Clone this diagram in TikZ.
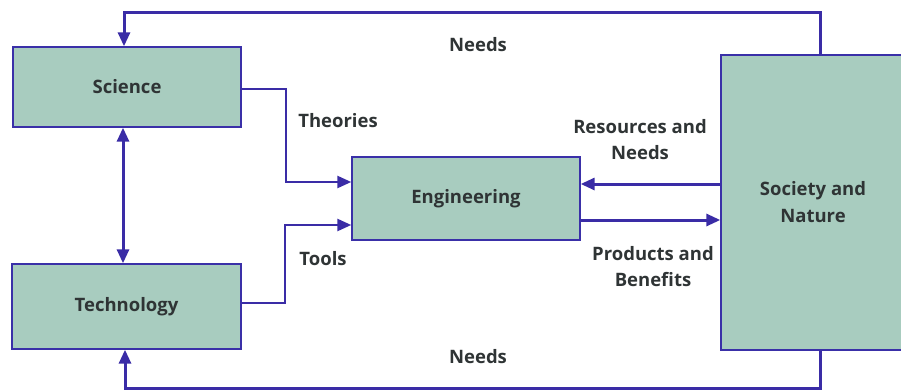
\documentclass[tikz,border=0pt]{standalone}
\usepackage{fontspec}
\setmainfont{Open Sans}
\usetikzlibrary{arrows.meta}
\definecolor{boxfill}{HTML}{A8CCBF}
\definecolor{boxline}{HTML}{3A30A8}
\definecolor{arrowc}{HTML}{3A2CA6}
\definecolor{txt}{HTML}{2F3435}
\begin{document}
\begin{tikzpicture}[x=1pt,y=-1pt,
  box/.style={draw=boxline,line width=1.4pt,fill=boxfill,inner sep=0pt,
    font=\fontsize{18.5}{27}\selectfont\bfseries,text=txt,align=center},
  conn/.style={draw=arrowc,line width=3pt},
  tip/.style={-{Triangle[length=14pt,width=12pt]}},
  lab/.style={font=\fontsize{18.5}{26}\selectfont\bfseries,text=txt,align=center,inner sep=0pt}]
\useasboundingbox (0,0) rectangle (901,390);
\node[box,minimum width=228pt,minimum height=80pt] (science) at (127,87) {Science};
\node[box,minimum width=229pt,minimum height=85pt] (technology) at (126.5,306.5) {Technology};
\node[box,minimum width=228pt,minimum height=83pt] (engineering) at (466,198.5) {Engineering};
\node[box,minimum width=184pt,minimum height=295pt] (society) at (813,202.5) {Society and\\Nature};
\coordinate (tr) at (820,13);
\coordinate (tl) at (124,13);
\coordinate (br) at (820,388);
\coordinate (bl) at (125,388);
\coordinate (st) at (123,0);
\coordinate (th1) at (286,89);
\coordinate (th2) at (286,182);
\coordinate (to1) at (285,303);
\coordinate (to2) at (285,225);
\coordinate (rs) at (0,184);
\coordinate (pr) at (0,220);
\draw[conn,tip] (society.north -| tr) -- (tr) -- (tl) -- (science.north -| tl);
\draw[conn,tip] (society.south -| br) -- (br) -- (bl) -- (technology.south -| bl);
\draw[conn,{Triangle[length=14pt,width=12pt]}-{Triangle[length=14pt,width=12pt]}] (science.south -| st) -- (technology.north -| st);
\draw[conn,line width=2.5pt,tip] (science.east |- th1) -- (th1) -- (th2) -- (engineering.west |- th2);
\draw[conn,line width=2.5pt,tip] (technology.east |- to1) -- (to1) -- (to2) -- (engineering.west |- to2);
\draw[conn,tip] (society.west |- rs) -- (engineering.east |- rs);
\draw[conn,tip] (engineering.east |- pr) -- (society.west |- pr);
\node[lab] (needsT) at (478,45) {Needs};
\node[lab] (needsB) at (478,357) {Needs};
\node[lab] (theo) at (338,121) {Theories};
\node[lab] (tools) at (323,259) {Tools};
\node[lab] (res) at (640,140) {Resources and\\Needs};
\node[lab] (prod) at (653,267) {Products and\\Benefits};
\end{tikzpicture}
\end{document}
